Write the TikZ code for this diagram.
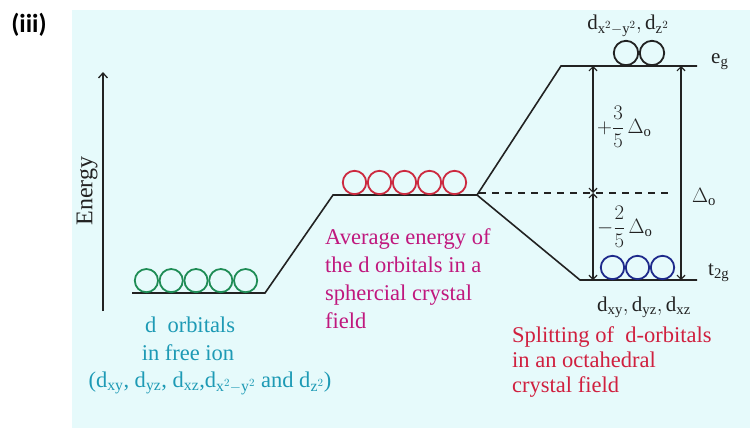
\documentclass[tikz,border=0pt]{standalone}
\usepackage{fontspec}
\setmainfont{Liberation Serif}
\setmathrm{Liberation Serif}
\usetikzlibrary{arrows.meta}
\newfontfamily\tagfont{Carlito}
\definecolor{panel}{HTML}{E6FAFB}
\definecolor{orbgreen}{HTML}{1E8C55}
\definecolor{orbred}{HTML}{CC2A40}
\definecolor{orbblue}{HTML}{1E2A8C}
\definecolor{txtteal}{HTML}{1D9AB5}
\definecolor{txtmag}{HTML}{C0187E}
\definecolor{txtred}{HTML}{D0203F}
\definecolor{ink}{HTML}{222222}
\tikzset{
  level/.style={draw=ink, line width=1.6pt},
  orb/.style={draw=#1, line width=1.8pt},
  barb/.style={draw=ink, line width=1.2pt, {Straight Barb[length=4pt,width=8pt]}-{Straight Barb[length=4pt,width=8pt]}},
  txt/.style={inner sep=0pt, font=\fontsize{22.5}{26}\selectfont},
  lab/.style={inner sep=0pt, font=\fontsize{21}{25}\selectfont, text=ink},
}
\begin{document}
\begin{tikzpicture}[x=1pt,y=-1pt]
\useasboundingbox (0,0) rectangle (755,432);
\fill[panel] (72,10) rectangle (750,428);

% tag
\node[inner sep=0pt, font=\tagfont\bfseries\fontsize{26}{30}\selectfont] (tag) at (29,25) {(iii)};

% energy axis
\coordinate (ea) at (103,311);
\coordinate (eb) at (103,72);
\draw[draw=ink, line width=1.3pt, -{Straight Barb[length=5pt,width=9pt]}] (ea) -- (eb);
\node[inner sep=0pt, font=\fontsize{24}{28}\selectfont, rotate=90, text=ink] (energy) at (87,191) {Energy};

% levels
\coordinate (f1) at (132,293);
\coordinate (f2) at (265,293);
\coordinate (m1) at (333,195);
\coordinate (m2) at (477,195);
\coordinate (g1) at (561,66);
\coordinate (g2) at (697,66);
\coordinate (t1) at (580,280);
\coordinate (t2) at (697,280);
\draw[level] (f1) -- (f2) -- (m1) -- (m2) -- (g1) -- (g2);
\draw[level] (m2) -- (t1) -- (t2);

% dashed line
\coordinate (d1) at (479,193);
\coordinate (d2) at (672,193);
\draw[draw=ink, line width=1.3pt, dash pattern=on 7pt off 6pt] (d1) -- (d2);

% orbitals
\foreach \i in {0,...,4} \draw[orb=orbgreen] (146.4+24.8*\i,280.6) circle (11.6);
\foreach \i in {0,...,4} \draw[orb=orbred] (354.5+25*\i,182.5) circle (11.7);
\foreach \i in {0,...,2} \draw[orb=orbblue] (612.5+25*\i,267.5) circle (11.7);
\foreach \i in {0,1} \draw[orb=ink] (626+26*\i,53) circle (12.2);

% splitting arrows
\coordinate (la) at (593,193);
\coordinate (lt) at (593,66);
\coordinate (lb) at (593,280);
\coordinate (rt) at (681,66);
\coordinate (rb) at (681,280);
\draw[barb] (la) -- (lt);
\draw[barb] (la) -- (lb);
\draw[barb] (rb) -- (rt);

% energy labels
\node[lab, anchor=west] (plus) at (597,127) {$+{\displaystyle\frac{3}{5}}\,\Delta_{\mathrm{o}}$};
\node[lab, anchor=west] (minus) at (597,227) {$-{\displaystyle\frac{2}{5}}\,\Delta_{\mathrm{o}}$};
\node[lab, anchor=west] (delta) at (692,197) {$\Delta_{\mathrm{o}}$};
\node[lab, anchor=base west] (eg) at (711,63) {$\mathrm{e}_{\mathrm{g}}$};
\node[lab, anchor=base west] (t2g) at (708,275) {$\mathrm{t}_{\mathrm{2g}}$};
\node[lab, anchor=base] (egname) at (628,29) {$\mathrm{d}_{\mathrm{x}^2\mathrm{-y}^2}, \mathrm{d}_{\mathrm{z}^2}$};
\node[lab, anchor=base] (t2gname) at (644,311) {$\mathrm{d}_{\mathrm{xy}}, \mathrm{d}_{\mathrm{yz}}, \mathrm{d}_{\mathrm{xz}}$};

% free ion text
\node[txt, text=txtteal, anchor=base] (fa) at (190,332) {d\ \ orbitals};
\node[txt, text=txtteal, anchor=base] (fb) at (188,360) {in free ion};
\node[txt, text=txtteal, anchor=base] (fc) at (210,387) {(d$_{\mathrm{xy}}$, d$_{\mathrm{yz}}$, d$_{\mathrm{xz}}$,d$_{\mathrm{x}^2\mathrm{-y}^2}$ and d$_{\mathrm{z}^2}$)};

% average text
\node[txt, text=txtmag, anchor=base west] (aa) at (325,244) {Average energy of};
\node[txt, text=txtmag, anchor=base west] (ab) at (325,272) {the d orbitals in a};
\node[txt, text=txtmag, anchor=base west] (ac) at (325,300) {sphercial crystal};
\node[txt, text=txtmag, anchor=base west] (ad) at (325,328) {field};

% splitting text
\node[txt, text=txtred, anchor=base west] (sa) at (512,342) {Splitting of\ \ d-orbitals};
\node[txt, text=txtred, anchor=base west] (sb) at (512,367) {in an octahedral};
\node[txt, text=txtred, anchor=base west] (sc) at (512,392) {crystal field};
\end{tikzpicture}
\end{document}
